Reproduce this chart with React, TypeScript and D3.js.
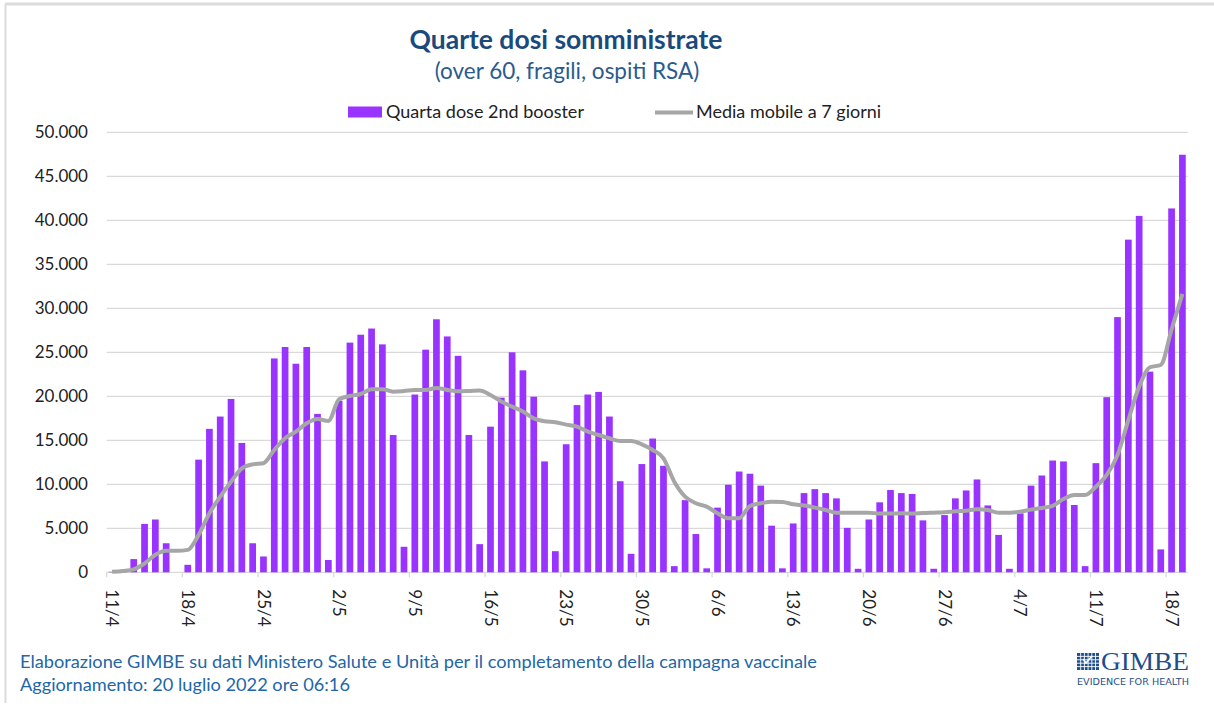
import React from 'react'
import * as d3 from 'd3'

const width = 1214
const height = 706

// one category per day, 11/4 -> 19/7 2022
const days = d3.timeDay.range(new Date(2022, 3, 11), new Date(2022, 6, 20))
const categories = days.map(d => `${d.getDate()}/${d.getMonth() + 1}`)

const tickLabels = ['11/4', '18/4', '25/4', '2/5', '9/5', '16/5', '23/5', '30/5', '6/6', '13/6', '20/6', '27/6', '4/7', '11/7', '18/7']
const yTicks = [0, 5000, 10000, 15000, 20000, 25000, 30000, 35000, 40000, 45000, 50000]

// Quarta dose 2nd booster
const doses = [
  60, 120, 1500, 5500, 6000, 3300, 0, 850, 12800, 16300,
  17700, 19700, 14700, 3300, 1800, 24300, 25600, 23700, 25600, 18000,
  1400, 19500, 26100, 27000, 27700, 25900, 15600, 2900, 20200, 25300,
  28750, 26800, 24600, 15600, 3200, 16550, 19850, 25000, 22950, 19950,
  12600, 2400, 14550, 19000, 20200, 20500, 17700, 10350, 2100, 12300,
  15200, 12100, 700, 8200, 4350, 450, 7350, 9950, 11450, 11200,
  9850, 5300, 450, 5550, 9000, 9450, 9000, 8400, 5050, 400,
  6000, 7950, 9350, 9000, 8900, 5900, 400, 6500, 8400, 9300,
  10550, 7600, 4250, 400, 6700, 9850, 11000, 12700, 12600, 7650,
  700, 12400, 19900, 29000, 37800, 40500, 22800, 2600, 41350, 47450,
]

// Media mobile a 7 giorni
const movingAvg = [
  50, 150, 340, 1000, 2000, 2450, 2450, 2550, 4250, 6700,
  8600, 10300, 11800, 12270, 12400, 13900, 15230, 15985, 16930, 17420,
  17200, 19660, 20040, 20265, 20800, 20800, 20530, 20600, 20720, 20720,
  20950, 20720, 20570, 20600, 20650, 20150, 19400, 18830, 18260, 17500,
  17160, 17050, 16780, 16550, 15985, 15600, 15230, 14920, 14920, 14545,
  13900, 12950, 10300, 8600, 7840, 7460, 6700, 6140, 6140, 7540,
  7840, 8030, 8000, 7730, 7580, 7350, 7080, 6780, 6780, 6780,
  6780, 6670, 6670, 6700, 6670, 6740, 6780, 6820, 6930, 7000,
  7160, 7080, 6780, 6780, 6890, 7120, 7310, 7540, 8330, 8790,
  8790, 9730, 11060, 13330, 17300, 21100, 23300, 23560, 27600, 31630,
]

const font = 'Lato, "Open Sans", sans-serif'
const barColor = '#9933FF'
const lineColor = '#A6A6A6'
const gridColor = '#D9D9D9'

const itFormat = d3.formatLocale({ decimal: ',', thousands: '.', grouping: [3], currency: ['', '€'] }).format(',')

const App = () => {
  const x = d3
    .scaleBand()
    .domain(categories)
    .range([106.7, 1187.8])
    .paddingInner(0.38)
    .paddingOuter(0.19)
  const y = d3
    .scaleLinear()
    .domain([0, 50000])
    .range([572.3, 132.3])

  const cx = (c: string) => (x(c) as number) + x.bandwidth() / 2
  const step = x.step()
  const x0 = x.range()[0]

  const line = d3
    .line<number>()
    .x((d, i) => cx(categories[i]))
    .y(d => y(d))
    .curve(d3.curveMonotoneX)

  // tick marks sit between categories, one every 7 days
  const tickMarks = d3.range(0, categories.length + 1, 7).map(i => x0 + i * step)

  return (
    <svg width={width} height={height} style={{ position: 'absolute', left: 0, top: 0 }} fontFamily={font}>
      <rect width={width} height={height} fill="#fff" />
      {/* frame */}
      <line x1={5} x2={1214} y1={4} y2={4} stroke="#DCDCDC" strokeWidth={3} />
      <line x1={5.5} x2={5.5} y1={4} y2={703} stroke="#DCDCDC" strokeWidth={2} />

      <text x={566} y={49} textAnchor="middle" fontSize={26.5} fontWeight="bold" fill="#1A4A7C">
        Quarte dosi somministrate
      </text>
      <text x={567} y={79} textAnchor="middle" fontSize={22.5} fill="#2A5B8E">
        (over 60, fragili, ospiti RSA)
      </text>

      {/* legend */}
      <rect x={348} y={106.5} width={34} height={11} fill={barColor} />
      <text x={386} y={118} fontSize={18} fill="#222">Quarta dose 2nd booster</text>
      <line x1={655} x2={693} y1={112.5} y2={112.5} stroke={lineColor} strokeWidth={4} />
      <text x={696} y={118} fontSize={18} fill="#222">Media mobile a 7 giorni</text>

      {yTicks.map(t => (
        <g key={t}>
          <line x1={106.7} x2={1187.8} y1={y(t)} y2={y(t)} stroke={gridColor} strokeWidth={1.3} />
          <text x={88} y={y(t)} dy="0.36em" textAnchor="end" fontSize={17} fill="#222">
            {itFormat(t)}
          </text>
        </g>
      ))}

      {tickMarks.map((tx, i) => (
        <line key={i} x1={tx} x2={tx} y1={y(0)} y2={y(0) + 5} stroke={gridColor} strokeWidth={1.3} />
      ))}

      {categories.map((c, i) => (
        <rect
          key={c}
          x={x(c)}
          y={y(doses[i])}
          width={x.bandwidth()}
          height={y(0) - y(doses[i])}
          fill={barColor}
        />
      ))}

      <path d={line(movingAvg) || ''} fill="none" stroke={lineColor} strokeWidth={4} strokeLinejoin="round" />

      {tickLabels.map(l => (
        <text
          key={l}
          transform={`translate(${cx(l)},${y(0) + 17}) rotate(90)`}
          dy="0.35em"
          fontSize={17}
          fill="#222"
        >
          {l}
        </text>
      ))}

      {/* footer */}
      <text x={20} y={668} fontSize={18.2} fill="#2366A8">
        Elaborazione GIMBE su dati Ministero Salute e Unità per il completamento della campagna vaccinale
      </text>
      <text x={20} y={691} fontSize={18.2} fill="#2366A8">
        Aggiornamento: 20 luglio 2022 ore 06:16
      </text>

      {/* logo */}
      <g>
        <rect x={1077} y={653} width={22} height={17} fill="#1F4E8C" />
        {d3.range(1, 6).map(i => (
          <line key={'v' + i} x1={1077 + i * 3.7} x2={1077 + i * 3.7} y1={653} y2={670} stroke="#fff" strokeWidth={0.9} />
        ))}
        {d3.range(1, 5).map(i => (
          <line key={'h' + i} x1={1077} x2={1099} y1={653 + i * 3.4} y2={653 + i * 3.4} stroke="#fff" strokeWidth={0.9} />
        ))}
        <path d="M1083,659 l3,4 l6,-7" fill="none" stroke="#fff" strokeWidth={1.6} />
        <text x={1101} y={670} fontSize={25} fontFamily='"Liberation Serif", serif' fill="#1F4E8C" textLength={88} lengthAdjust="spacingAndGlyphs">
          GIMBE
        </text>
        <text x={1077} y={684.5} fontSize={9} fontFamily='"DejaVu Sans", sans-serif' fill="#1F4E8C" textLength={112} lengthAdjust="spacingAndGlyphs">
          EVIDENCE FOR HEALTH
        </text>
      </g>
    </svg>
  )
}

export default App
